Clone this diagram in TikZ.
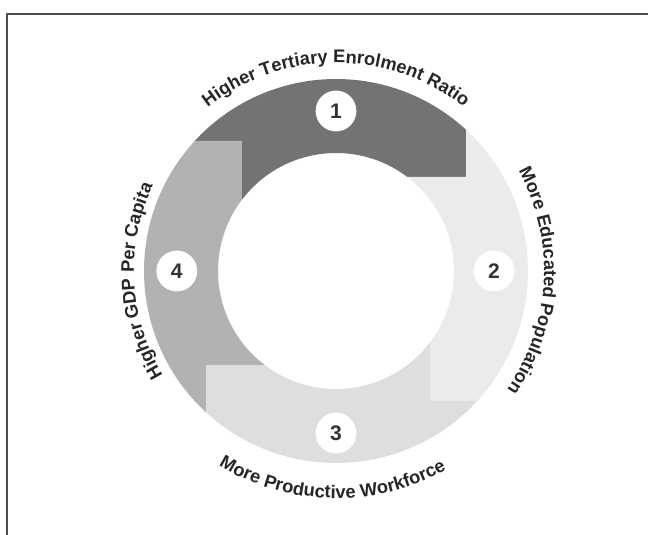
\documentclass[tikz,border=0pt]{standalone}
\usepackage{fontspec}
\setmainfont{Liberation Sans}
\usetikzlibrary{decorations.text}
\newcommand\lblfont{\bfseries\fontsize{13}{15}\selectfont}
\tikzset{
  numdot/.style={circle, fill=white, minimum size=1.02cm, inner sep=0pt, text=black!80, font=\bfseries\fontsize{15}{18}\selectfont},
  arctext/.style={decorate, decoration={text along path, text align=center, text color=black!85, text={|\lblfont|#1}}},
  frame/.style={draw=black!70, line width=1.2pt}
}
\begin{document}
\begin{tikzpicture}[line join=round, line cap=round]
	\def\segA{black!55}
	\def\segB{black!8}
	\def\segC{black!13}
	\def\segD{black!30}
	\useasboundingbox (-8.4,-6.6) rectangle (7.8,6.775);
	\draw[frame] (7.8,6.425)--(-8.225,6.425)--(-8.225,-6.6);
	\foreach \rot/\col in {0/\segA, 270/\segB, 180/\segC, 90/\segD}
		\fill[\col, rotate=\rot] (47.38:4.8) arc[start angle=47.38, end angle=137.38, radius=4.8]
			--(-2.35,3.25)--(142.81:2.95) arc[start angle=142.81, end angle=52.81, radius=2.95]
			--(3.25,2.35)--cycle;
	\node[numdot] (n1) at (90:4) {1};
	\node[numdot] (n2) at (0:3.95) {2};
	\node[numdot] (n3) at (270:4.05) {3};
	\node[numdot] (n4) at (180:3.98) {4};
	\path[arctext={Higher Tertiary Enrolment Ratio}] (150:5.2) arc[start angle=150, end angle=30, radius=5.2];
	\path[arctext={More Educated Population}] (57:5.2) arc[start angle=57, end angle=-63, radius=5.2];
	\path[arctext={More Productive Workforce}] (209:5.68) arc[start angle=209, end angle=329, radius=5.68];
	\path[arctext={Higher GDP Per Capita}] (243:5.05) arc[start angle=243, end angle=123, radius=5.05];
\end{tikzpicture}
\end{document}
